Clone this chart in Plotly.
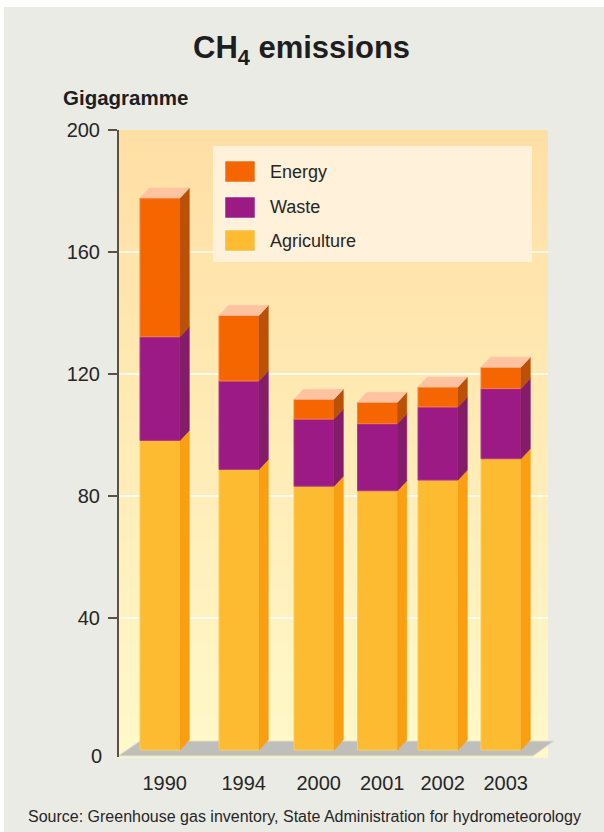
import plotly.graph_objects as go

# ---- data (Gg CH4 by sector) ----
YEARS = ["1990", "1994", "2000", "2001", "2002", "2003"]
AGRICULTURE = [101.5, 92, 86.5, 85, 88.5, 95.5]
WASTE = [34, 29, 22, 22, 24, 23]
ENERGY = [45.5, 21.5, 6.5, 7, 6.5, 7]
Y_TICKS = [40, 80, 120, 160, 200]

# ---- page geometry ----
W, H = 604, 832
L, R, T, B = 119, 48, 130, 75
PLOT_W = W - L - R
PLOT_H = H - T - B
Y_MIN, Y_MAX = -5.57, 200
PX_PER_UNIT = PLOT_H / (Y_MAX - Y_MIN)

# slot centres of the bar fronts along the x axis (x axis runs in page pixels)
SLOT_X = [160, 239, 314, 377.5, 438, 501]
BAR_W = 40
DEPTH_X = 9.3                     # horizontal depth of the pseudo-3D bars
DEPTH_Y = 10 / PX_PER_UNIT        # vertical depth, in value units

WALL_RIGHT = 548
FONT = "Liberation Sans, Arial, sans-serif"
TEXT = "#262626"
AXIS_COL = "#5C5140"

SERIES = [
    # name, values, front, side, top, edge
    ("Agriculture", AGRICULTURE, "#FCBB30", "#FA9E12", "#FFD98A", "#FDCB5A"),
    ("Waste", WASTE, "#9C1A84", "#841C6A", "#C77AB5", "#B03A8E"),
    ("Energy", ENERGY, "#F56600", "#BA5106", "#FFC3A2", "#F8803A"),
]


def px(xp):
    return (xp - L) / PLOT_W


def py(yp):
    return 1 - (yp - T) / PLOT_H


def mix(c1, c2, t):
    a = [int(c1[i:i + 2], 16) for i in (1, 3, 5)]
    b = [int(c2[i:i + 2], 16) for i in (1, 3, 5)]
    return "#" + "".join(f"{round(a[k] + (b[k] - a[k]) * t):02X}" for k in range(3))


fig = go.Figure()

# stacked front faces plus their side faces
bottoms = [0.0] * len(YEARS)
for name, vals, front, side, top, edge in SERIES:
    tops = [b + v for b, v in zip(bottoms, vals)]
    fig.add_trace(go.Bar(
        x=SLOT_X, y=vals, base=[b - DEPTH_Y for b in bottoms], width=BAR_W,
        marker=dict(color=front, line=dict(color=edge, width=1)),
        name=name, showlegend=False, hoverinfo="skip",
    ))
    sx, sy = [], []
    for xc, b0, b1 in zip(SLOT_X, bottoms, tops):
        xr = xc + BAR_W / 2
        sx += [xr, xr + DEPTH_X, xr + DEPTH_X, xr, xr, None]
        sy += [b0 - DEPTH_Y, b0, b1, b1 - DEPTH_Y, b0 - DEPTH_Y, None]
    fig.add_trace(go.Scatter(
        x=sx, y=sy, mode="lines", fill="toself", fillcolor=side,
        line=dict(width=0.6, color=side), showlegend=False, hoverinfo="skip",
    ))
    bottoms = tops

# lid on top of each stack
lx, ly = [], []
for xc, tv in zip(SLOT_X, bottoms):
    xl, xr = xc - BAR_W / 2, xc + BAR_W / 2
    lx += [xl, xl + DEPTH_X, xr + DEPTH_X, xr, xl, None]
    ly += [tv - DEPTH_Y, tv, tv, tv - DEPTH_Y, tv - DEPTH_Y, None]
fig.add_trace(go.Scatter(
    x=lx, y=ly, mode="lines", fill="toself", fillcolor=SERIES[-1][4],
    line=dict(width=0.6, color=SERIES[-1][4]), showlegend=False, hoverinfo="skip",
))

shapes = []
# grey panel behind everything
shapes.append(dict(type="rect", xref="paper", yref="paper", x0=px(4), x1=px(W),
                   y0=py(H), y1=py(7), fillcolor="#EBEBE6", line_width=0, layer="below"))
# back wall with a vertical gradient
N = 60
wall_top, wall_bot = T, H - B
for i in range(N):
    y0 = wall_top + (wall_bot - wall_top) * i / N
    y1 = wall_top + (wall_bot - wall_top) * (i + 1) / N
    shapes.append(dict(type="rect", xref="paper", yref="paper", x0=px(L), x1=px(WALL_RIGHT),
                       y0=py(y1) - 0.001, y1=py(y0), line_width=0, layer="below",
                       fillcolor=mix("#FFDFA4", "#FFF8C9", i / (N - 1))))
# grid lines on the wall
for v in Y_TICKS[:-1]:
    shapes.append(dict(type="line", xref="x", yref="y", x0=L, x1=WALL_RIGHT, y0=v, y1=v,
                       line=dict(color="#FFFFFF", width=1.3), layer="below"))
# floor
fl = [(118, 756), (533, 756), (554, 741), (140, 741)]
path = "M " + " L ".join(f"{px(a):.5f},{py(b):.5f}" for a, b in fl) + " Z"
shapes.append(dict(type="path", xref="paper", yref="paper", path=path,
                   fillcolor="#BEBFBA", line=dict(color="#E4E1CC", width=1), layer="below"))

# legend panel
shapes.append(dict(type="rect", xref="paper", yref="paper", x0=px(213), x1=px(532),
                   y0=py(262), y1=py(146), fillcolor="#FFF1DA", line_width=0, layer="above"))
annotations = []
legend_rows = [("Energy", 161), ("Waste", 197), ("Agriculture", 230)]
colors = {s[0]: s[2] for s in SERIES}
for name, top_px in legend_rows:
    shapes.append(dict(type="rect", xref="paper", yref="paper", x0=px(225), x1=px(255),
                       y0=py(top_px + 21), y1=py(top_px), fillcolor=colors[name],
                       line=dict(color="#FFFFFF", width=0.5), layer="above"))
    annotations.append(dict(xref="paper", yref="paper", x=px(268), y=py(top_px + 10.5),
                            xanchor="left", yanchor="middle", showarrow=False, text=name,
                            font=dict(family=FONT, size=18, color=TEXT)))

annotations += [
    dict(xref="paper", yref="paper", x=px(301), y=py(50), xanchor="center", yanchor="middle",
         showarrow=False, text="<b>CH<sub>4</sub> emissions</b>",
         font=dict(family=FONT, size=31, color="#1E1E1E")),
    dict(xref="paper", yref="paper", x=px(61), y=py(97), xanchor="left", yanchor="middle",
         showarrow=False, text="<b>Gigagramme</b>", font=dict(family=FONT, size=20.5, color="#1E1E1E")),
    dict(xref="paper", yref="paper", x=px(104), y=py(756), xanchor="right", yanchor="middle",
         showarrow=False, text="0", font=dict(family=FONT, size=20, color=TEXT)),
    dict(xref="paper", yref="paper", x=px(304), y=py(816), xanchor="center", yanchor="middle",
         showarrow=False,
         text="Source: Greenhouse gas inventory, State Administration for hydrometeorology",
         font=dict(family=FONT, size=16, color=TEXT)),
]

fig.update_layout(
    width=W, height=H, margin=dict(l=L, r=R, t=T, b=B, autoexpand=False),
    paper_bgcolor="#FFFFFF", plot_bgcolor="rgba(0,0,0,0)",
    barmode="overlay", showlegend=False,
    shapes=shapes, annotations=annotations,
    xaxis=dict(range=[L, W - R], showgrid=False, zeroline=False, showline=False,
               tickvals=[s + DEPTH_X / 2 for s in SLOT_X], ticktext=YEARS, ticks="",
               ticklabelstandoff=12, tickfont=dict(family=FONT, size=20, color=TEXT),
               fixedrange=True),
    yaxis=dict(range=[Y_MIN, Y_MAX], tickvals=Y_TICKS, showgrid=False, zeroline=False,
               showline=True, linecolor=AXIS_COL, linewidth=2,
               ticks="outside", ticklen=9, tickwidth=2, tickcolor=AXIS_COL,
               ticklabelstandoff=4, tickfont=dict(family=FONT, size=20, color=TEXT),
               fixedrange=True),
)

fig.write_html("out.html", config={"displayModeBar": False})
